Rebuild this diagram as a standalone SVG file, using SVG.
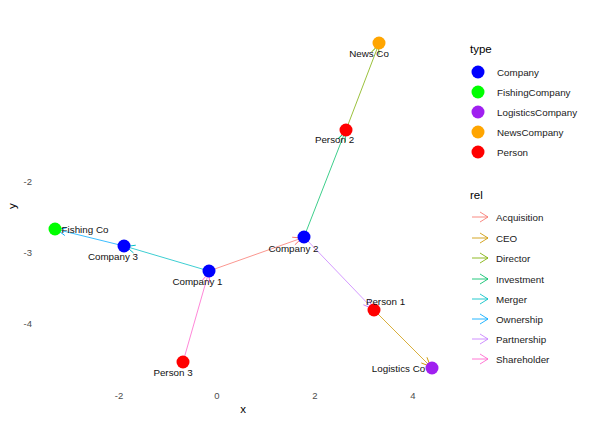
<svg xmlns="http://www.w3.org/2000/svg" width="591" height="422" viewBox="0 0 591 422">
<style>
text{font-family:"Liberation Sans",Arial,sans-serif;}
.lbl{font-size:9.8px;fill:#111;text-anchor:middle;}
.tick{font-size:9.5px;fill:#4D4D4D;}
.ttl{font-size:11.5px;fill:#000;}
.leg{font-size:9.8px;fill:#1a1a1a;}
.e{fill:none;stroke-width:0.9;stroke-opacity:0.85;}
.ah{fill:none;stroke-width:0.9;}
</style>
<defs>
<marker id="mA" viewBox="-1 -5 12 10" refX="9" refY="0" markerWidth="12" markerHeight="10" markerUnits="userSpaceOnUse" orient="auto" overflow="visible"><path d="M0,-4 L9,0 L0,4" class="ah" stroke="#F8766D"/></marker>
<marker id="mC" viewBox="-1 -5 12 10" refX="9" refY="0" markerWidth="12" markerHeight="10" markerUnits="userSpaceOnUse" orient="auto" overflow="visible"><path d="M0,-4 L9,0 L0,4" class="ah" stroke="#CD9600"/></marker>
<marker id="mD" viewBox="-1 -5 12 10" refX="9" refY="0" markerWidth="12" markerHeight="10" markerUnits="userSpaceOnUse" orient="auto" overflow="visible"><path d="M0,-4 L9,0 L0,4" class="ah" stroke="#7CAE00"/></marker>
<marker id="mI" viewBox="-1 -5 12 10" refX="9" refY="0" markerWidth="12" markerHeight="10" markerUnits="userSpaceOnUse" orient="auto" overflow="visible"><path d="M0,-4 L9,0 L0,4" class="ah" stroke="#00BE67"/></marker>
<marker id="mM" viewBox="-1 -5 12 10" refX="9" refY="0" markerWidth="12" markerHeight="10" markerUnits="userSpaceOnUse" orient="auto" overflow="visible"><path d="M0,-4 L9,0 L0,4" class="ah" stroke="#00BFC4"/></marker>
<marker id="mO" viewBox="-1 -5 12 10" refX="9" refY="0" markerWidth="12" markerHeight="10" markerUnits="userSpaceOnUse" orient="auto" overflow="visible"><path d="M0,-4 L9,0 L0,4" class="ah" stroke="#00A9FF"/></marker>
<marker id="mP" viewBox="-1 -5 12 10" refX="9" refY="0" markerWidth="12" markerHeight="10" markerUnits="userSpaceOnUse" orient="auto" overflow="visible"><path d="M0,-4 L9,0 L0,4" class="ah" stroke="#C77CFF"/></marker>
<marker id="mS" viewBox="-1 -5 12 10" refX="9" refY="0" markerWidth="12" markerHeight="10" markerUnits="userSpaceOnUse" orient="auto" overflow="visible"><path d="M0,-4 L9,0 L0,4" class="ah" stroke="#FF61CC"/></marker>
</defs>
<rect width="591" height="422" fill="#fff"/>

<g id="axes">
<text class="tick" x="119" y="399" text-anchor="middle">-2</text>
<text class="tick" x="217" y="399" text-anchor="middle">0</text>
<text class="tick" x="315" y="399" text-anchor="middle">2</text>
<text class="tick" x="413" y="399" text-anchor="middle">4</text>
<text class="tick" x="32" y="185" text-anchor="end">-2</text>
<text class="tick" x="32" y="256" text-anchor="end">-3</text>
<text class="tick" x="32" y="327" text-anchor="end">-4</text>
<text class="ttl" x="243" y="413" text-anchor="middle">x</text>
<text class="ttl" x="0" y="0" text-anchor="middle" transform="translate(16,206) rotate(-90)">y</text>
</g>

<g id="connectors">
<line class="e" x1="209" y1="271" x2="302" y2="238" stroke="#F8766D" marker-end="url(#mA)"/>
<line class="e" x1="209" y1="271" x2="126" y2="246.5" stroke="#00BFC4" marker-end="url(#mM)"/>
<line class="e" x1="124" y1="246" x2="57" y2="229.5" stroke="#00A9FF" marker-end="url(#mO)"/>
<line class="e" x1="183" y1="362" x2="208.5" y2="273" stroke="#FF61CC" marker-end="url(#mS)"/>
<line class="e" x1="304" y1="237" x2="345" y2="132" stroke="#00BE67" marker-end="url(#mI)"/>
<line class="e" x1="346" y1="130" x2="378.5" y2="45" stroke="#7CAE00" marker-end="url(#mD)"/>
<line class="e" x1="304" y1="237" x2="372.5" y2="308.5" stroke="#C77CFF" marker-end="url(#mP)"/>
<line class="e" x1="374" y1="310" x2="430.5" y2="366.5" stroke="#CD9600" marker-end="url(#mC)"/>
</g>

<g id="node-newsco"><circle cx="379" cy="43" r="6.5" fill="#FFA500"/><text class="lbl" x="369" y="57">News Co</text></g>
<g id="node-person2"><circle cx="346" cy="130" r="6.5" fill="#FF0000"/><text class="lbl" x="334.5" y="143">Person 2</text></g>
<g id="node-company2"><circle cx="304" cy="237" r="6.5" fill="#0000FF"/><text class="lbl" x="293.5" y="252">Company 2</text></g>
<g id="node-person1"><circle cx="374" cy="310" r="6.5" fill="#FF0000"/><text class="lbl" x="385.5" y="305">Person 1</text></g>
<g id="node-logistics"><circle cx="432" cy="368" r="6.5" fill="#A020F0"/><text class="lbl" x="398.5" y="372">Logistics Co</text></g>
<g id="node-company1"><circle cx="209" cy="271" r="6.5" fill="#0000FF"/><text class="lbl" x="197.5" y="285">Company 1</text></g>
<g id="node-company3"><circle cx="124" cy="246" r="6.5" fill="#0000FF"/><text class="lbl" x="113" y="260">Company 3</text></g>
<g id="node-fishing"><circle cx="55" cy="229" r="6.5" fill="#00FF00"/><text class="lbl" x="85" y="233">Fishing Co</text></g>
<g id="node-person3"><circle cx="183" cy="362" r="6.5" fill="#FF0000"/><text class="lbl" x="173" y="376">Person 3</text></g>

<g id="legend-type">
<text class="ttl" x="470" y="53">type</text>
<circle cx="478" cy="72" r="6.5" fill="#0000FF"/><text class="leg" x="497" y="76">Company</text>
<circle cx="478" cy="92" r="6.5" fill="#00FF00"/><text class="leg" x="497" y="96">FishingCompany</text>
<circle cx="478" cy="112" r="6.5" fill="#A020F0"/><text class="leg" x="497" y="116">LogisticsCompany</text>
<circle cx="478" cy="132" r="6.5" fill="#FFA500"/><text class="leg" x="497" y="136">NewsCompany</text>
<circle cx="478" cy="152" r="6.5" fill="#FF0000"/><text class="leg" x="497" y="156">Person</text>
</g>

<g id="legend-rel">
<text class="ttl" x="470" y="199">rel</text>
<g stroke-width="1" fill="none" stroke-opacity="0.85">
<path d="M472,217 H488 M480,212 L488,217 L480,222" stroke="#F8766D"/>
<path d="M472,238 H488 M480,233 L488,238 L480,243" stroke="#CD9600"/>
<path d="M472,258 H488 M480,253 L488,258 L480,263" stroke="#7CAE00"/>
<path d="M472,279 H488 M480,274 L488,279 L480,284" stroke="#00BE67"/>
<path d="M472,299 H488 M480,294 L488,299 L480,304" stroke="#00BFC4"/>
<path d="M472,319 H488 M480,314 L488,319 L480,324" stroke="#00A9FF"/>
<path d="M472,339 H488 M480,334 L488,339 L480,344" stroke="#C77CFF"/>
<path d="M472,359 H488 M480,354 L488,359 L480,364" stroke="#FF61CC"/>
</g>
<text class="leg" x="496" y="221">Acquisition</text>
<text class="leg" x="496" y="242">CEO</text>
<text class="leg" x="496" y="262">Director</text>
<text class="leg" x="496" y="283">Investment</text>
<text class="leg" x="496" y="303">Merger</text>
<text class="leg" x="496" y="323">Ownership</text>
<text class="leg" x="496" y="343">Partnership</text>
<text class="leg" x="496" y="363">Shareholder</text>
</g>
</svg>
